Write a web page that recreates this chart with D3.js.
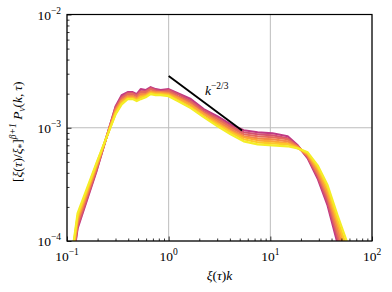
<!DOCTYPE html>
<html><head><meta charset="utf-8">
<script src="https://cdn.jsdelivr.net/npm/d3@7"></script>
<style>body{margin:0;background:#fff}svg{display:block}</style>
</head><body><svg id="c" width="392" height="292"></svg>
<script>
// ---- data ----
const kXi = [0.109,0.127,0.196,0.301,0.345,0.395,0.443,0.485,0.531,0.594,0.665,0.745,0.834,1.0,1.23,1.65,2.21,3.03,4.07,5.47,7.5,10.5,14.8,18.6,23.3,29.2,36.6,45.9,57.5,72.2];
const spec0 = [0.0495e-3,0.129e-3,0.421e-3,1.55e-3,1.94e-3,2.06e-3,2.06e-3,1.98e-3,2.19e-3,2.15e-3,2.28e-3,2.19e-3,2.15e-3,2.19e-3,2.02e-3,1.79e-3,1.46e-3,1.26e-3,1.07e-3,0.950e-3,0.912e-3,0.894e-3,0.841e-3,0.700e-3,0.537e-3,0.357e-3,0.206e-3,0.0950e-3,0.0447e-3,0.0179e-3];
const spec1 = [0.0516e-3,0.134e-3,0.429e-3,1.52e-3,1.86e-3,2.02e-3,2.02e-3,1.94e-3,2.10e-3,2.10e-3,2.24e-3,2.15e-3,2.10e-3,2.15e-3,1.98e-3,1.72e-3,1.43e-3,1.21e-3,1.03e-3,0.912e-3,0.876e-3,0.858e-3,0.807e-3,0.686e-3,0.548e-3,0.372e-3,0.219e-3,0.105e-3,0.0505e-3,0.0206e-3];
const spec2 = [0.0537e-3,0.143e-3,0.447e-3,1.46e-3,1.82e-3,1.98e-3,1.98e-3,1.90e-3,2.06e-3,2.06e-3,2.19e-3,2.10e-3,2.06e-3,2.10e-3,1.90e-3,1.68e-3,1.37e-3,1.19e-3,1.01e-3,0.876e-3,0.841e-3,0.824e-3,0.791e-3,0.686e-3,0.560e-3,0.388e-3,0.238e-3,0.114e-3,0.0571e-3,0.0243e-3];
const spec3 = [0.0559e-3,0.149e-3,0.456e-3,1.43e-3,1.75e-3,1.90e-3,1.90e-3,1.82e-3,1.98e-3,1.98e-3,2.10e-3,2.06e-3,2.06e-3,2.02e-3,1.86e-3,1.61e-3,1.34e-3,1.14e-3,0.970e-3,0.841e-3,0.807e-3,0.791e-3,0.759e-3,0.672e-3,0.571e-3,0.404e-3,0.253e-3,0.126e-3,0.0645e-3,0.0280e-3];
const spec4 = [0.0595e-3,0.158e-3,0.466e-3,1.40e-3,1.72e-3,1.86e-3,1.86e-3,1.79e-3,1.90e-3,1.94e-3,2.06e-3,2.02e-3,2.02e-3,1.98e-3,1.82e-3,1.58e-3,1.32e-3,1.10e-3,0.931e-3,0.824e-3,0.775e-3,0.759e-3,0.729e-3,0.672e-3,0.583e-3,0.429e-3,0.269e-3,0.140e-3,0.0744e-3,0.0329e-3];
const spec5 = [0.0619e-3,0.165e-3,0.485e-3,1.34e-3,1.65e-3,1.82e-3,1.82e-3,1.75e-3,1.86e-3,1.90e-3,2.02e-3,1.98e-3,1.98e-3,1.94e-3,1.75e-3,1.52e-3,1.26e-3,1.07e-3,0.912e-3,0.791e-3,0.744e-3,0.729e-3,0.714e-3,0.658e-3,0.595e-3,0.447e-3,0.292e-3,0.152e-3,0.0841e-3,0.0380e-3];
const spec6 = [0.0645e-3,0.175e-3,0.495e-3,1.32e-3,1.61e-3,1.79e-3,1.79e-3,1.72e-3,1.79e-3,1.86e-3,1.98e-3,1.94e-3,1.94e-3,1.90e-3,1.72e-3,1.49e-3,1.24e-3,1.03e-3,0.876e-3,0.759e-3,0.714e-3,0.700e-3,0.686e-3,0.658e-3,0.607e-3,0.466e-3,0.310e-3,0.168e-3,0.0950e-3,0.0447e-3];
const spectra = [spec0,spec1,spec2,spec3,spec4,spec5,spec6];
const refK = [1.0, 5.27];
const refP = [2.86e-3, 0.944e-3];
const xTickVals = [0.1,1,10,100];
const xTickExp = ["\u22121","0","1","2"];
const yTickVals = [1e-4,1e-3,1e-2];
const yTickExp = ["\u22124","\u22123","\u22122"];

// ---- drawing ----
const svg = d3.select("#c");
const L=67, R=372, T=14.5, B=241;
const FONT = "'Liberation Serif', 'DejaVu Serif', serif";
const x = d3.scaleLog().domain([0.1,100]).range([L,R]);
const y = d3.scaleLog().domain([1e-4,1e-2]).range([B,T]);

// grid
const grid = svg.append("g").attr("stroke","#bcbcbc").attr("stroke-width",1);
grid.selectAll(".gx").data(xTickVals).join("line")
  .attr("x1",d=>x(d)).attr("x2",d=>x(d)).attr("y1",T).attr("y2",B);
grid.selectAll(".gy").data(yTickVals).join("line")
  .attr("y1",d=>y(d)).attr("y2",d=>y(d)).attr("x1",L).attr("x2",R);

svg.append("clipPath").attr("id","clip").append("rect")
  .attr("x",L).attr("y",T).attr("width",R-L).attr("height",B-T);

const color = i => d3.interpolatePlasma(0.45 + 0.52*i/(spectra.length-1));
const line = d3.line().x((d,j)=>x(kXi[j])).y(d=>y(d));
svg.append("g").attr("clip-path","url(#clip)")
  .selectAll("path").data(spectra).join("path")
  .attr("d",line).attr("fill","none")
  .attr("stroke",(d,i)=>color(i)).attr("stroke-width",2.2)
  .attr("stroke-linejoin","round");

// reference power law
svg.append("path")
  .attr("d", d3.line().x((d,j)=>x(refK[j])).y(d=>y(d))(refP))
  .attr("stroke","#000").attr("stroke-width",1.9).attr("fill","none");

const lab = svg.append("text").attr("x",205).attr("y",95)
  .attr("font-family",FONT).attr("font-size",13.5);
lab.append("tspan").attr("font-style","italic").text("k");
lab.append("tspan").attr("dy",-6).attr("font-size",9.5).text("\u22122/3");

// axes with inward ticks
const minorX = [], minorY = [];
[0.1,1,10].forEach(d=>{for(let m=2;m<10;m++) minorX.push(d*m);});
[1e-4,1e-3].forEach(d=>{for(let m=2;m<10;m++) minorY.push(d*m);});
function styleAxis(g){g.select(".domain").remove(); g.selectAll("line").attr("stroke","#000").attr("stroke-width",0.8);}
svg.append("g").attr("transform",`translate(0,${B})`)
  .call(d3.axisBottom(x).tickValues(xTickVals).tickSize(-4.5).tickFormat("")).call(styleAxis);
svg.append("g").attr("transform",`translate(0,${B})`)
  .call(d3.axisBottom(x).tickValues(minorX).tickSize(-2.5).tickFormat("")).call(styleAxis);
svg.append("g").attr("transform",`translate(${L},0)`)
  .call(d3.axisLeft(y).tickValues(yTickVals).tickSize(-4.5).tickFormat("")).call(styleAxis);
svg.append("g").attr("transform",`translate(${L},0)`)
  .call(d3.axisLeft(y).tickValues(minorY).tickSize(-2.5).tickFormat("")).call(styleAxis);

svg.append("rect").attr("x",L).attr("y",T).attr("width",R-L).attr("height",B-T)
  .attr("fill","none").attr("stroke","#000").attr("stroke-width",1.2);

// tick labels
svg.selectAll(".xl").data(xTickVals).join("text")
  .attr("x",d=>x(d)).attr("y",261).attr("text-anchor","middle")
  .attr("font-family",FONT).attr("font-size",13.5)
  .each(function(d,i){
    const t=d3.select(this);
    t.append("tspan").text("10");
    t.append("tspan").attr("dy",-6).attr("font-size",9.5).text(xTickExp[i]);
  });
svg.selectAll(".yl").data(yTickVals).join("text")
  .attr("x",61).attr("y",d=>y(d)+5).attr("text-anchor","end")
  .attr("font-family",FONT).attr("font-size",13.5)
  .each(function(d,i){
    const t=d3.select(this);
    t.append("tspan").text("10");
    t.append("tspan").attr("dy",-6).attr("font-size",9.5).text(yTickExp[i]);
  });

// axis titles
const xt = svg.append("text").attr("x",(L+R)/2).attr("y",280).attr("text-anchor","middle")
  .attr("font-family",FONT).attr("font-size",13.5);
xt.append("tspan").attr("font-style","italic").text("\u03be");
xt.append("tspan").text("(");
xt.append("tspan").attr("font-style","italic").text("\u03c4");
xt.append("tspan").text(")");
xt.append("tspan").attr("font-style","italic").text("k");

const yt = svg.append("text").attr("transform",`translate(22,${(T+B)/2+4}) rotate(-90)`)
  .attr("text-anchor","middle").attr("font-family",FONT).attr("font-size",13.5);
const parts = [
  ["[",0,null],["\u03be",0,"i"],["(",0,null],["\u03c4",0,"i"],[")/",0,null],["\u03be",0,"i"],
  ["*",3,"s"],["]",-3,null],["\u03b2+1",-6,"sup"],["\u00a0P",6,"i"],["v",3,"sub"],["(",-3,null],
  ["k",0,"i"],[",\u2009",0,null],["\u03c4",0,"i"],[")",0,null]
];
parts.forEach(([txt,dy,st])=>{
  const s = yt.append("tspan").attr("dy",dy).text(txt);
  if(st==="i") s.attr("font-style","italic");
  if(st==="s"||st==="sub") s.attr("font-size",9.5);
  if(st==="sub") s.attr("font-style","italic");
  if(st==="sup") s.attr("font-size",9.5).attr("font-style","italic");
});
</script>
</body></html>
